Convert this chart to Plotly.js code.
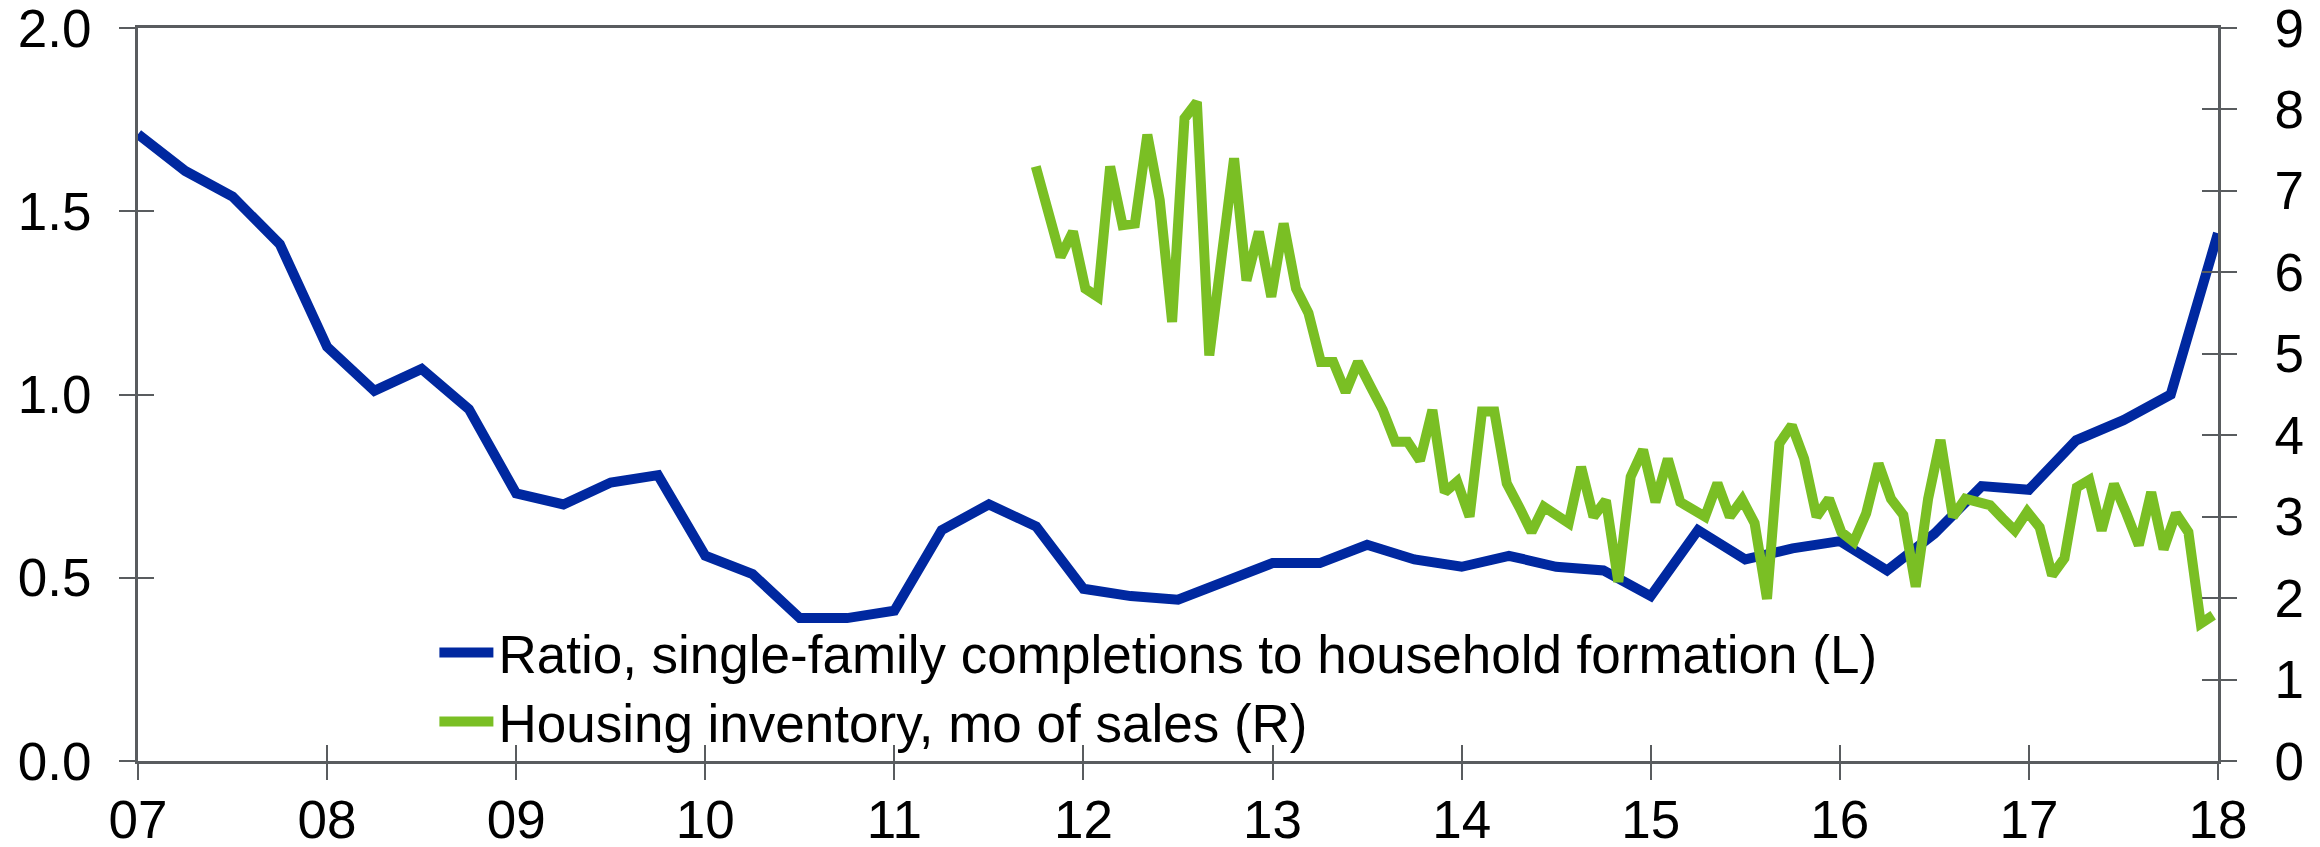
<!DOCTYPE html>
<html>
<head>
<meta charset="utf-8">
<script src="https://cdn.plot.ly/plotly-3.0.1.min.js"></script>
<style>
  html, body { margin: 0; padding: 0; background: #ffffff; }
  #chart { width: 2320px; height: 847px; }
</style>
</head>
<body>
<div id="chart"></div>
<script>
// ---- Data ----
const yearTicks = [2007, 2008, 2009, 2010, 2011, 2012, 2013, 2014, 2015, 2016, 2017, 2018];
const yearLabels = ['07', '08', '09', '10', '11', '12', '13', '14', '15', '16', '17', '18'];
const leftTicks = [0, 0.5, 1, 1.5, 2];
const leftLabels = ['0.0', '0.5', '1.0', '1.5', '2.0'];
const rightTicks = [0, 1, 2, 3, 4, 5, 6, 7, 8, 9];

// Ratio, single-family completions to household formation (quarterly, 2007Q1 - 2018Q1)
const ratioValues = [1.71, 1.61, 1.54, 1.41, 1.13, 1.01, 1.07, 0.96, 0.73, 0.70,
                     0.76, 0.78, 0.56, 0.51, 0.39, 0.39, 0.41, 0.63, 0.70, 0.64,
                     0.47, 0.45, 0.44, 0.49, 0.54, 0.54, 0.59, 0.55, 0.53, 0.56,
                     0.53, 0.52, 0.45, 0.63, 0.55, 0.58, 0.60, 0.52, 0.62, 0.75,
                     0.74, 0.875, 0.93, 1.00, 1.44];
const ratioStartYear = 2007;

// Housing inventory, months of sales (secondary category axis, evenly spaced)
const inventoryValues = [7.30, 6.72, 6.19, 6.50, 5.80, 5.70, 7.30, 6.58, 6.60, 7.69,
                         6.89, 5.39, 7.89, 8.09, 4.98, 6.20, 7.40, 5.90, 6.50, 5.70,
                         6.60, 5.80, 5.50, 4.90, 4.90, 4.53, 4.90, 4.60, 4.31, 3.92,
                         3.92, 3.69, 4.31, 3.30, 3.43, 3.00, 4.29, 4.29, 3.41, 3.12,
                         2.81, 3.12, 3.02, 2.92, 3.61, 3.00, 3.20, 2.20, 3.49, 3.82,
                         3.18, 3.71, 3.18, 3.09, 3.00, 3.41, 3.00, 3.21, 2.92, 1.99,
                         3.90, 4.12, 3.71, 3.00, 3.22, 2.81, 2.69, 3.04, 3.65, 3.22,
                         3.02, 2.14, 3.22, 3.94, 3.00, 3.22, 3.18, 3.14, 2.98, 2.83,
                         3.06, 2.87, 2.28, 2.49, 3.36, 3.45, 2.83, 3.40, 3.04, 2.65,
                         3.30, 2.60, 3.04, 2.81, 1.69, 1.79];

const seriesNames = ['Ratio, single-family completions to household formation (L)',
                     'Housing inventory, mo of sales (R)'];

// ---- Derived positions ----
const ratioX = ratioValues.map((v, i) => ratioStartYear + i / 4);
const inventoryIdx = inventoryValues.map((v, i) => i);

const BLUE = '#0028A0';
const GREEN = '#7ABF24';
const AXIS = '#595C5F';
const FONT = 'Liberation Sans, Arial, Helvetica, sans-serif';
const FS = 53;
const LW = 10;

const traces = [
  {
    x: ratioX, y: ratioValues, name: seriesNames[0],
    type: 'scatter', mode: 'lines', xaxis: 'x', yaxis: 'y', legend: 'legend',
    line: { color: BLUE, width: LW }, hoverinfo: 'skip'
  },
  {
    x: inventoryIdx, y: inventoryValues, name: seriesNames[1],
    type: 'scatter', mode: 'lines', xaxis: 'x2', yaxis: 'y2', legend: 'legend2',
    line: { color: GREEN, width: LW }, hoverinfo: 'skip'
  },
  // empty helper traces so the inner-tick overlay axes are drawn (no marks)
  { x: [], y: [], type: 'scatter', mode: 'lines', xaxis: 'x3', yaxis: 'y3', showlegend: false, hoverinfo: 'skip' },
  { x: [], y: [], type: 'scatter', mode: 'lines', xaxis: 'x3', yaxis: 'y4', showlegend: false, hoverinfo: 'skip' }
];

const tickCommon = { ticklen: 16, tickwidth: 2, tickcolor: AXIS };
const tfont = { family: FONT, size: FS, color: '#000000' };
const legendCommon = {
  xanchor: 'left', yanchor: 'top', bgcolor: 'rgba(0,0,0,0)', borderwidth: 0,
  font: tfont, itemwidth: 54
};

const layout = {
  width: 2320, height: 847,
  margin: { l: 137.6, r: 101.7, t: 28.1, b: 86.4, pad: 0 },
  paper_bgcolor: '#ffffff', plot_bgcolor: '#ffffff',
  font: tfont,
  showlegend: true,
  legend: Object.assign({ x: 0.1425, y: 0.2038 }, legendCommon),
  legend2: Object.assign({ x: 0.1425, y: 0.1096 }, legendCommon),
  xaxis: Object.assign({
    domain: [0, 1], range: [2007, 2018], type: 'linear',
    tickmode: 'array', tickvals: yearTicks, ticktext: yearLabels,
    ticks: 'outside', showline: true, linecolor: AXIS, linewidth: 3, mirror: true,
    showgrid: false, zeroline: false, fixedrange: true,
    tickfont: tfont, ticklabelstandoff: -6, ticklabeloverflow: 'allow', automargin: false
  }, tickCommon),
  xaxis3: Object.assign({
    overlaying: 'x', anchor: 'y3', side: 'bottom', range: [2007, 2018], type: 'linear',
    tickmode: 'array', tickvals: yearTicks, ticks: 'inside', showticklabels: false,
    showline: false, showgrid: false, zeroline: false, fixedrange: true
  }, tickCommon),
  xaxis2: {
    overlaying: 'x', anchor: 'y2', range: [-72.44, 95.39], type: 'linear',
    visible: false, fixedrange: true
  },
  yaxis: Object.assign({
    domain: [0, 1], range: [0, 2], tickmode: 'array',
    tickvals: leftTicks, ticktext: leftLabels,
    ticks: 'outside', showline: true, linecolor: AXIS, linewidth: 3,
    showgrid: false, zeroline: false, fixedrange: true,
    tickfont: tfont, ticklabelstandoff: 17, ticklabeloverflow: 'allow', automargin: false
  }, tickCommon),
  yaxis3: Object.assign({
    overlaying: 'y', anchor: 'x3', side: 'left', range: [0, 2], tickmode: 'array',
    tickvals: leftTicks, ticks: 'inside', showticklabels: false,
    showline: false, showgrid: false, zeroline: false, fixedrange: true
  }, tickCommon),
  yaxis2: Object.assign({
    overlaying: 'y', anchor: 'x2', side: 'right', range: [0, 9], tickmode: 'array',
    tickvals: rightTicks,
    ticks: 'outside', showline: true, linecolor: AXIS, linewidth: 3,
    showgrid: false, zeroline: false, fixedrange: true,
    tickfont: tfont, ticklabelstandoff: 27, ticklabeloverflow: 'allow', automargin: false
  }, tickCommon),
  yaxis4: Object.assign({
    overlaying: 'y', anchor: 'x3', side: 'right', range: [0, 9], tickmode: 'array',
    tickvals: rightTicks, ticks: 'inside', showticklabels: false,
    showline: false, showgrid: false, zeroline: false, fixedrange: true
  }, tickCommon)
};

Plotly.newPlot('chart', traces, layout, { displayModeBar: false, staticPlot: true });
</script>
</body>
</html>
